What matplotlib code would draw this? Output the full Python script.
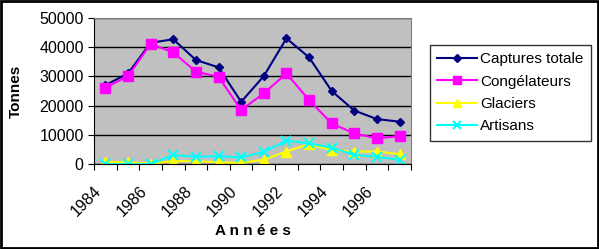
import matplotlib
matplotlib.use("Agg")
import matplotlib.pyplot as plt
from matplotlib.patches import Rectangle

years = list(range(1984, 1998))
captures = [27000, 31000, 41500, 42700, 35600, 33100, 21300, 30100, 43000, 36500, 25000, 18300, 15400, 14500]
congel = [26100, 30100, 41100, 38200, 31600, 29900, 18500, 24200, 31000, 21900, 13900, 10500, 8800, 9600]
glaciers = [800, 600, 200, 1000, 1000, 600, 400, 1500, 4300, 6800, 4800, 4300, 4300, 3400]
artisans = [0, 0, 0, 3100, 2500, 2700, 2300, 4200, 8000, 7100, 5600, 3100, 2500, 1400]
tick_labels = ["1984", "1986", "1988", "1990", "1992", "1994", "1996"]

plt.rcParams['font.family'] = ['Liberation Sans', 'DejaVu Sans']

fig = plt.figure(figsize=(5.99, 2.49), dpi=100)
fig.patches.append(Rectangle((0.002, 0.004), 0.996, 0.992, transform=fig.transFigure,
                             fill=False, edgecolor='black', linewidth=2))
ax = fig.add_axes([0.157, 0.341, 0.529, 0.587])
ax.set_facecolor('#C0C0C0')

x = [i + 0.5 for i in range(len(years))]
ax.plot(x, captures, color='#000080', marker='D', markersize=4.5, lw=1.5, label='Captures totale')
ax.plot(x, congel, color='#FF00FF', marker='s', markersize=7, lw=1.5, label='Congélateurs')
ax.plot(x, glaciers, color='#FFFF00', marker='^', markersize=7, lw=1.5, label='Glaciers')
ax.plot(x, artisans, color='#00FFFF', marker='x', markersize=7, mew=1.5, lw=1.5, label='Artisans')

ax.set_xlim(0, len(years))
ax.set_ylim(0, 50000)
ax.set_yticks(range(0, 50001, 10000))
ax.yaxis.grid(True, color='black', lw=1)
ax.set_axisbelow(True)
ax.set_xticks(range(0, len(years) + 1))
ax.set_xticklabels([tick_labels[i // 2] if i % 2 == 0 and i // 2 < len(tick_labels) else '' for i in range(len(years) + 1)],
                   rotation=45, ha='right', rotation_mode='anchor', fontsize=11.5)
ax.tick_params(axis='y', labelsize=11.5, length=4)
ax.tick_params(axis='x', length=4, pad=10)
for s in ['top', 'right']:
    ax.spines[s].set_color('#808080')
for s in ['left', 'bottom']:
    ax.spines[s].set_color('black')
ax.set_ylabel('Tonnes', fontsize=11, fontweight='bold', labelpad=12)
ax.set_xlabel('A n n é e s', fontsize=11, fontweight='bold', labelpad=3)

leg = ax.legend(loc='upper left', bbox_to_anchor=(1.035, 0.87), frameon=True, fancybox=False,
                edgecolor='black', fontsize=11, handlelength=2.6, borderpad=0.5, labelspacing=0.55,
                handletextpad=0.2, markerscale=0.8)
leg.get_frame().set_linewidth(1)

fig.savefig('out.png', dpi=100)
